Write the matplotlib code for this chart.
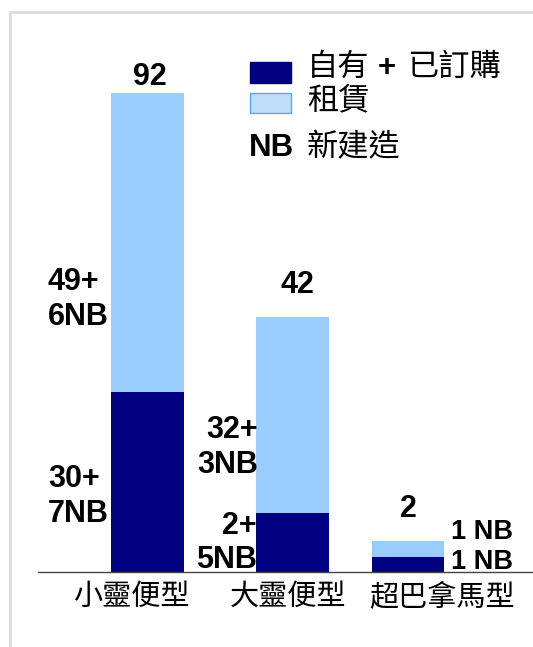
import matplotlib.pyplot as plt
from matplotlib.patches import Rectangle

plt.rcParams['font.family'] = ['Liberation Sans', 'Noto Sans CJK TC', 'DejaVu Sans']

categories = ["小靈便型", "大靈便型", "超巴拿馬型"]
owned = [34.5, 11.3, 2.9]      # 自有 + 已訂購 (drawn height)
leased = [57.5, 37.7, 3.1]     # 租賃 (drawn height)
totals = ["92", "42", "2"]
owned_labels = ["30+\n7NB", "2+\n5NB", "1 NB"]
leased_labels = ["49+\n6NB", "32+\n3NB", "1 NB"]

dark = "#000080"
light = "#99CCFF"

W, H = 533, 647
fig = plt.figure(figsize=(W / 100, H / 100), dpi=100)

# light grey frame
fig.patches.append(Rectangle((10 / W, -0.1), 1.2, 1 - 12 / H + 0.1, transform=fig.transFigure,
                             fill=False, edgecolor="#DCDCDC", linewidth=2))

ax = fig.add_axes([38 / W, 1 - 572 / H, 1 - 38 / W, 479 / H])
xpos = [1.09, 2.545, 3.70]
width = 0.73
ax.bar(xpos, owned, width, color=dark)
ax.bar(xpos, leased, width, bottom=owned, color=light)
ax.set_xlim(0, 4.95)
ax.set_ylim(0, 92)

for s in ["top", "right", "left"]:
    ax.spines[s].set_visible(False)
ax.spines["bottom"].set_color("#444444")
ax.spines["bottom"].set_linewidth(1)
ax.set_yticks([])
ax.set_xticks([0.93, 2.50, 4.04])
ax.set_xticklabels(categories, fontsize=21)
ax.tick_params(axis="x", length=0, pad=8)

bold = dict(fontsize=22, fontweight="bold", color="black")
# totals above bars
ax.text(xpos[0] + 0.03, 92 + 0.2, totals[0], ha="center", va="bottom", **bold)
ax.text(xpos[1] + 0.05, 49 + 3.2, totals[1], ha="center", va="bottom", **bold)
ax.text(xpos[2], 6 + 3.2, totals[2], ha="center", va="bottom", **bold)

# segment labels
ax.text(0.10, 52.3, leased_labels[0], ha="left", va="center", linespacing=1.2, **bold)
ax.text(0.10, 14.5, owned_labels[0], ha="left", va="center", linespacing=1.2, **bold)
ax.text(2.20, 23.9, leased_labels[1], ha="right", va="center", linespacing=1.2, **bold)
ax.text(2.19, 5.6, owned_labels[1], ha="right", va="center", linespacing=1.2, **bold)
ax.text(4.13, 7.7, leased_labels[2], ha="left", va="center", fontsize=19.5, fontweight="bold")
ax.text(4.13, 2.0, owned_labels[2], ha="left", va="center", fontsize=19.5, fontweight="bold")

# legend
fig.patches.append(Rectangle((250 / W, 1 - 83 / H), 41 / W, 21 / H, transform=fig.transFigure,
                             facecolor=dark, edgecolor=dark))
fig.patches.append(Rectangle((250 / W, 1 - 113 / H), 41 / W, 20 / H, transform=fig.transFigure,
                             facecolor="#BFDDF5", edgecolor="#55AAFF", linewidth=1))
fs = 22.5
fig.text(307 / W, 1 - 68 / H, "自有", fontsize=fs, va="center", ha="left")
fig.text(387 / W, 1 - 68 / H, "+", fontsize=fs, fontweight="bold", va="center", ha="center")
fig.text(407 / W, 1 - 68 / H, "已訂購", fontsize=fs, va="center", ha="left")
fig.text(307 / W, 1 - 101 / H, "租賃", fontsize=fs, va="center", ha="left")
fig.text(249 / W, 1 - 148 / H, "NB", fontsize=fs, fontweight="bold", va="center", ha="left")
fig.text(307 / W, 1 - 148 / H, "新建造", fontsize=fs, va="center", ha="left")

plt.savefig("out.png", dpi=100)
